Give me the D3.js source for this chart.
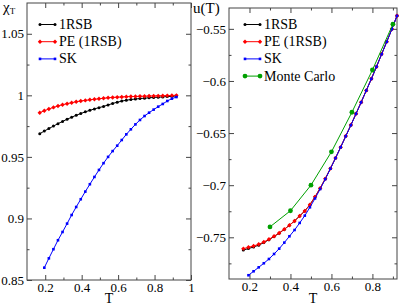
<!DOCTYPE html>
<html>
<head>
<meta charset="utf-8">
<title>chi and u</title>
<script src="https://cdn.jsdelivr.net/npm/d3@7"></script>
<style>
  body { margin: 0; background: #fff; }
  svg, svg text { font-family: "Liberation Serif", "Times New Roman", "DejaVu Serif", serif; }
</style>
</head>
<body>
<script>
// temperature grid used by the 1RSB / PE / SK curves
const tGrid = [0.17, 0.195, 0.22, 0.245, 0.27, 0.295, 0.32, 0.345, 0.37, 0.395, 0.42,
  0.445, 0.47, 0.495, 0.52, 0.545, 0.57, 0.595, 0.62, 0.645, 0.67, 0.695, 0.72,
  0.745, 0.77, 0.795, 0.82, 0.845, 0.87, 0.895, 0.92];
const tSK = tGrid.slice(1);

// left panel: chi_T
const chi1RSB = [0.9688, 0.971, 0.973, 0.975, 0.977, 0.9788, 0.9806, 0.9822, 0.9838, 0.9852,
  0.9866, 0.9878, 0.989, 0.99, 0.991, 0.9922, 0.9934, 0.9944, 0.9953, 0.996, 0.9966,
  0.997, 0.9974, 0.9977, 0.998, 0.9983, 0.9985, 0.9987, 0.999, 0.9992, 0.9995];
const chiPE = [0.9859, 0.9875, 0.9889, 0.9902, 0.9913, 0.9924, 0.9932, 0.994, 0.9948, 0.9954,
  0.9959, 0.9964, 0.9968, 0.9972, 0.9976, 0.998, 0.9983, 0.9985, 0.9987, 0.9989, 0.999,
  0.9991, 0.9992, 0.9993, 0.9994, 0.9995, 0.9996, 0.9997, 0.9998, 0.9999, 1.0];
const chiSK = [0.860, 0.8676, 0.875, 0.8823, 0.889, 0.8958, 0.9028, 0.9093, 0.9156, 0.9218,
  0.9278, 0.9337, 0.9394, 0.9449, 0.95, 0.9547, 0.9591, 0.9637, 0.9683, 0.9724, 0.9764,
  0.980, 0.9832, 0.9859, 0.9884, 0.9908, 0.993, 0.9954, 0.9973, 0.9986];

// right panel: u(T)
const u1RSB = [-0.7622, -0.7608, -0.7593, -0.7575, -0.7551, -0.7523, -0.7493, -0.746, -0.7424,
  -0.7384, -0.7343, -0.7295, -0.7247, -0.7187, -0.7112, -0.7029, -0.6938, -0.684, -0.6739,
  -0.6635, -0.6529, -0.6423, -0.6314, -0.6204, -0.6091, -0.5979, -0.5863, -0.5742, -0.5623,
  -0.5502, -0.5374];
const uPE = [-0.7609, -0.7596, -0.7583, -0.7567, -0.7545, -0.7519, -0.749, -0.7458, -0.7423,
  -0.7384, -0.7343, -0.7295, -0.7247, -0.7187, -0.7112, -0.7029, -0.6938, -0.684, -0.6739,
  -0.6635, -0.6529, -0.6423, -0.6314, -0.6204, -0.6091, -0.5979, -0.5863, -0.5742, -0.5623,
  -0.5502, -0.5374];
const uSK = [-0.7864, -0.7826, -0.7788, -0.7749, -0.7708, -0.766, -0.7609, -0.7551, -0.749,
  -0.743, -0.7362, -0.7292, -0.7212, -0.7127, -0.7037, -0.6942, -0.6842, -0.674, -0.6636,
  -0.653, -0.6424, -0.6315, -0.6205, -0.6092, -0.598, -0.5864, -0.5743, -0.5624, -0.5503,
  -0.5375];
const tMC = [0.3, 0.4, 0.5, 0.6, 0.7, 0.8, 0.9];
const uMC = [-0.740, -0.7245, -0.700, -0.668, -0.630, -0.5895, -0.5455];

// ticks
const leftXMajor = [0.2, 0.4, 0.6, 0.8, 1];
const leftXMinor = [0.3, 0.5, 0.7, 0.9];
const leftYMajor = [0.85, 0.9, 0.95, 1, 1.05];
const leftYMinor = [0.875, 0.925, 0.975, 1.025];
const rightXMajor = [0.2, 0.4, 0.6, 0.8];
const rightXMinor = [0.3, 0.5, 0.7, 0.9];
const rightYMajor = [-0.75, -0.7, -0.65, -0.6, -0.55];
const rightYMinor = [-0.775, -0.725, -0.675, -0.625, -0.575];

const W = 399, H = 306;
const frameColor = "#444";
const serif = "'Liberation Serif', 'Times New Roman', 'DejaVu Serif', serif";

const svg = d3.select("body").append("svg")
  .attr("width", W).attr("height", H)
  .attr("font-family", serif);

const styles = {
  "1RSB": { color: "#000000", shape: "circle", r: 1.5 },
  "PE (1RSB)": { color: "#ff0000", shape: "diamond", r: 2.2 },
  "SK": { color: "#0000ff", shape: "square", r: 1.3 },
  "Monte Carlo": { color: "#00a000", shape: "circle", r: 2.4 }
};

function marker(g, st, x, y) {
  if (st.shape === "circle") {
    g.append("circle").attr("cx", x).attr("cy", y).attr("r", st.r).attr("fill", st.color);
  } else if (st.shape === "square") {
    g.append("rect").attr("x", x - st.r).attr("y", y - st.r)
      .attr("width", 2 * st.r).attr("height", 2 * st.r).attr("fill", st.color);
  } else {
    const r = st.r;
    g.append("path").attr("d", `M${x},${y - r}L${x + r},${y}L${x},${y + r}L${x - r},${y}Z`)
      .attr("fill", st.color);
  }
}

function panel(o) {
  const x = d3.scaleLinear().domain(o.xDomain).range([o.left, o.right]);
  const y = d3.scaleLinear().domain(o.yDomain).range([o.bottom, o.top]);
  const g = svg.append("g");

  const axes = [
    [d3.axisBottom(x).tickValues(o.xMajor).tickSize(-5).tickPadding(3).tickFormat(d3.format("")), `translate(0,${o.bottom})`],
    [d3.axisBottom(x).tickValues(o.xMinor).tickSize(-2.5).tickFormat(""), `translate(0,${o.bottom})`],
    [d3.axisTop(x).tickValues(o.xMajor).tickSize(-5).tickFormat(""), `translate(0,${o.top})`],
    [d3.axisTop(x).tickValues(o.xMinor).tickSize(-2.5).tickFormat(""), `translate(0,${o.top})`],
    [d3.axisLeft(y).tickValues(o.yMajor).tickSize(-5).tickPadding(3).tickFormat(d3.format("")), `translate(${o.left},0)`],
    [d3.axisLeft(y).tickValues(o.yMinor).tickSize(-2.5).tickFormat(""), `translate(${o.left},0)`],
    [d3.axisRight(y).tickValues(o.yMajor).tickSize(-5).tickFormat(""), `translate(${o.right},0)`],
    [d3.axisRight(y).tickValues(o.yMinor).tickSize(-2.5).tickFormat(""), `translate(${o.right},0)`]
  ];
  axes.forEach(([ax, tr]) => {
    const a = g.append("g").attr("transform", tr).call(ax)
      .attr("font-family", serif).attr("font-size", 13);
    a.select(".domain").remove();
    a.selectAll("line").attr("stroke", frameColor);
    a.selectAll("text").attr("fill", "#000");
  });

  g.append("rect")
    .attr("x", o.left).attr("y", o.top)
    .attr("width", o.right - o.left).attr("height", o.bottom - o.top)
    .attr("fill", "none").attr("stroke", frameColor).attr("stroke-width", 1);

  const line = d3.line().x(d => x(d[0])).y(d => y(d[1]));
  o.series.forEach(s => {
    const st = styles[s.name];
    const pts = d3.zip(s.t, s.v);
    g.append("path").datum(pts).attr("d", line)
      .attr("fill", "none").attr("stroke", st.color).attr("stroke-width", 1);
    const mg = g.append("g");
    pts.forEach(p => marker(mg, st, x(p[0]), y(p[1])));
  });

  // legend
  o.series.forEach((s, i) => {
    const st = styles[s.name];
    const ly = o.legendY + i * o.legendStep;
    g.append("line").attr("x1", o.legendX).attr("x2", o.legendX + 15)
      .attr("y1", ly).attr("y2", ly).attr("stroke", st.color).attr("stroke-width", 1);
    marker(g, st, o.legendX, ly);
    marker(g, st, o.legendX + 15, ly);
    g.append("text").attr("x", o.legendX + 19).attr("y", ly + 4.5)
      .attr("font-size", 14).text(s.name);
  });

  g.append("text").attr("x", (o.left + o.right) / 2).attr("y", 302.5)
    .attr("text-anchor", "middle").attr("font-size", 14).text("T");
  return g;
}

const gl = panel({
  left: 27, right: 191, top: 3, bottom: 280,
  xDomain: [0.1, 1], yDomain: [0.85, 1.075],
  xMajor: leftXMajor, xMinor: leftXMinor, yMajor: leftYMajor, yMinor: leftYMinor,
  legendX: 40, legendY: 24.5, legendStep: 17.2,
  series: [
    { name: "1RSB", t: tGrid, v: chi1RSB },
    { name: "PE (1RSB)", t: tGrid, v: chiPE },
    { name: "SK", t: tSK, v: chiSK }
  ]
});
const yl = gl.append("text").attr("x", 3).attr("y", 12).attr("font-size", 15);
yl.append("tspan").text("χ");
yl.append("tspan").attr("font-size", 9).attr("dy", 2).text("T");

const gr = panel({
  left: 229, right: 397, top: 8, bottom: 279,
  xDomain: [0.1, 0.92], yDomain: [-0.79, -0.53],
  xMajor: rightXMajor, xMinor: rightXMinor, yMajor: rightYMajor, yMinor: rightYMinor,
  legendX: 245, legendY: 24.5, legendStep: 17.2,
  series: [
    { name: "1RSB", t: tGrid, v: u1RSB },
    { name: "PE (1RSB)", t: tGrid, v: uPE },
    { name: "SK", t: tSK, v: uSK },
    { name: "Monte Carlo", t: tMC, v: uMC }
  ]
});
gr.append("text").attr("x", 193).attr("y", 13).attr("font-size", 15).text("u(T)");
</script>
</body>
</html>
